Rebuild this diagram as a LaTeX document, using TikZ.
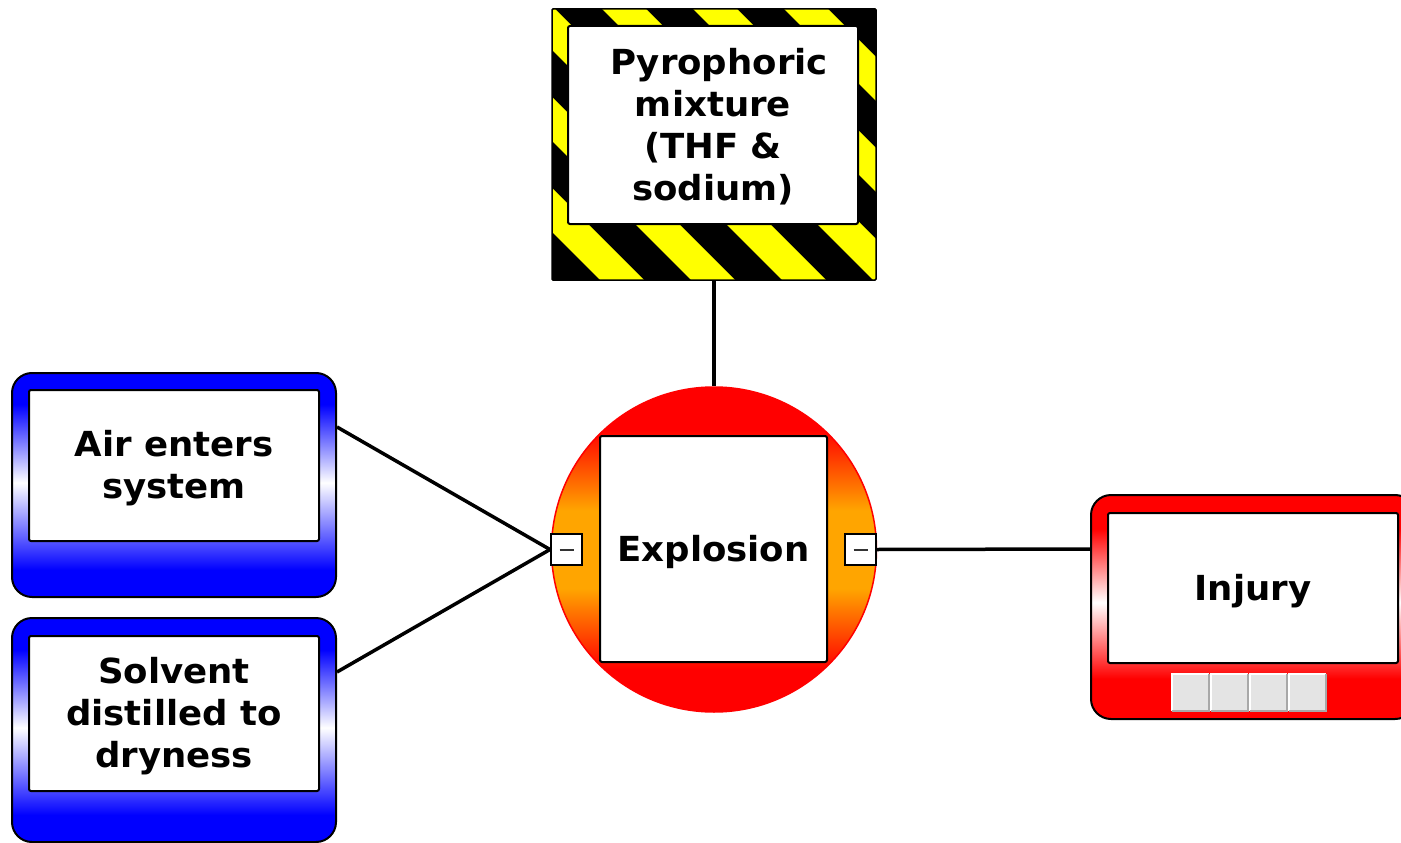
\documentclass[tikz,border=0pt]{standalone}
\usepackage{fontspec}
\setmainfont{DejaVu Sans}[FakeStretch=1.03]
\usetikzlibrary{calc}
\definecolor{fireorange}{HTML}{FFA500}
\definecolor{hazardyellow}{HTML}{FFFF00}
\definecolor{keygrey}{HTML}{E4E4E4}
\definecolor{keyshadow}{HTML}{A8A8A8}
\definecolor{minusgrey}{HTML}{333333}
% vertical fills (shape bottom sits at 25bp, shape top at 75bp)
\pgfdeclareverticalshading{bluebar}{100bp}{color(0bp)=(blue); color(31bp)=(blue); color(50.5bp)=(white); color(68bp)=(blue); color(100bp)=(blue)}
\pgfdeclareverticalshading{redbar}{100bp}{color(0bp)=(red); color(34bp)=(red); color(51bp)=(white); color(67.5bp)=(red); color(100bp)=(red)}
\pgfdeclareverticalshading{fireball}{100bp}{color(0bp)=(red); color(31.5bp)=(red); color(44bp)=(fireorange); color(56bp)=(fireorange); color(68.5bp)=(red); color(100bp)=(red)}
\begin{document}
\begin{tikzpicture}[x=1pt,y=-1pt,
  lbl/.style={font=\fontsize{34.5}{42}\selectfont\bfseries, align=center, inner sep=0pt},
  conn/.style={line width=3.5pt, black},
  outerbox/.style={draw=black, line width=2pt, rounded corners=20pt,
    minimum width=324pt, minimum height=224pt, inner sep=0pt, shade},
  textbox/.style={draw=black, fill=white, line width=2pt,
    rounded corners=2pt, inner sep=0pt, minimum width=290pt},
  minusbox/.style={draw=black, fill=white, line width=2pt,
    minimum size=31pt, inner sep=0pt},
  minusbar/.style={draw=minusgrey, line width=2pt},
  keybtn/.style={fill=keygrey, minimum size=37pt, inner sep=0pt},
]
\useasboundingbox (0,0) rectangle (1401,843);
\clip (0,0) rectangle (1401,843);

% hazard-striped frame
\begin{scope}
  \clip (552,9) rectangle (876,280);
  \fill[black] (552,9) rectangle (876,280);
  \foreach \c in {229,320,...,866}
    \fill[hazardyellow] (\c+9,9) -- (\c+53,9) -- (\c+324,280) -- (\c+280,280) -- cycle;
\end{scope}
\node[draw=black, line width=1.5pt, rounded corners=1pt,
  minimum width=324pt, minimum height=271pt, inner sep=0pt] (hazard) at (714,144.5) {};
\node[textbox, minimum height=198pt] (pyrobox) at (713,125) {};
\node[lbl] (pyro) at ([yshift=-2pt]pyrobox.center)
  {\hspace*{12pt}Pyrophoric\\mixture\\(THF \&\\sodium)};

% central event
\node[circle, draw=red, line width=1.5pt, minimum size=325pt, inner sep=0pt,
  shading=fireball, shade] (boom) at (714,549.5) {};
\node[textbox, minimum width=227pt, minimum height=226pt] (explbox) at (713.5,549) {};
\node[lbl] (explosion) at ([yshift=-3pt]explbox.center) {Explosion};
\node[minusbox] (lminus) at (566.5,549.5) {};
\node[minusbox] (rminus) at (860.5,549.5) {};
\draw[minusbar] ([xshift=-7pt]lminus.center) -- ([xshift=7pt]lminus.center);
\draw[minusbar] ([xshift=-7pt]rminus.center) -- ([xshift=7pt]rminus.center);

% causes
\node[outerbox, shading=bluebar] (airout) at (174,485) {};
\node[textbox, minimum height=151pt] (airbox) at (174,465.5) {};
\node[lbl] (air) at ([yshift=-3pt]airbox.center) {Air enters\\system};
\node[outerbox, shading=bluebar] (solvout) at (174,730) {};
\node[textbox, minimum height=155pt] (solvbox) at (174,713.5) {};
\node[lbl] (solvent) at ([yshift=-3pt]solvbox.center) {Solvent\\distilled to\\dryness};

% consequence
\node[outerbox, shading=redbar] (injout) at (1253,607) {};
\node[textbox, minimum height=150pt] (injbox) at (1253,588) {};
\node[lbl] (injury) at ([yshift=-3pt]injbox.center) {Injury};
\foreach \i/\x in {1/1190.5, 2/1229.5, 3/1268.5, 4/1307.5} {
  \node[keybtn] (key\i) at (\x,692.5) {};
  \draw[white, line width=2pt] (key\i.south west) -- (key\i.north west) -- (key\i.north east);
  \draw[keyshadow, line width=2pt] (key\i.south west) -- (key\i.south east) -- (key\i.north east);
}

% connectors
\draw[conn] (hazard.south) -- (boom.north);
\draw[conn] ([yshift=58pt]airout.east) -- (lminus.west);
\draw[conn] ([yshift=58pt]solvout.east) -- (lminus.west);
\draw[conn] (rminus.east) -- ([yshift=58pt]injout.west);
\end{tikzpicture}
\end{document}
